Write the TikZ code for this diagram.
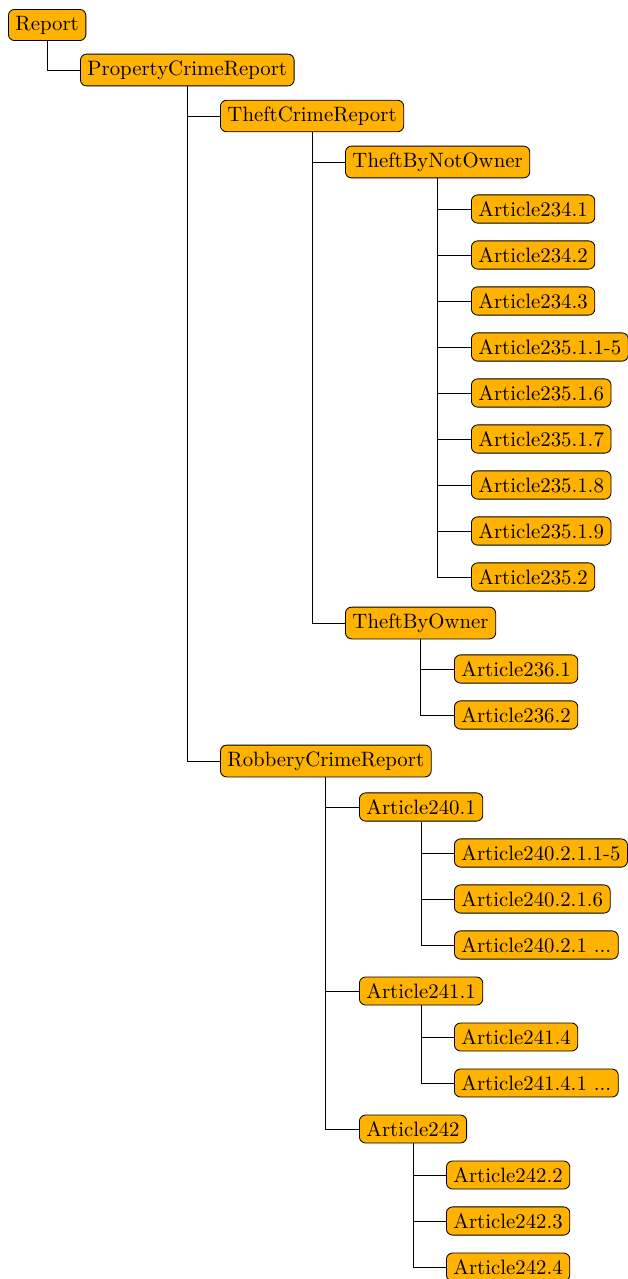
\documentclass[tikz,border=0pt]{standalone}
\definecolor{boxorange}{RGB}{255, 178, 0}
\usetikzlibrary{positioning}
\tikzset{
  item/.style={draw=black, fill=boxorange, rounded corners=3pt, anchor=west,
    inner xsep=3.4pt, inner ysep=3.1pt},
  link/.style={black, line width=0.4pt}
}
\begin{document}
\begin{tikzpicture}[x=0.4808pt, y=-0.4808pt]
  \useasboundingbox (0, 0) rectangle (627, 1279);

  % Top levels
  \node[item] (report) at (8, 25) {Report};
  \node[item] (property) at (80, 70) {PropertyCrimeReport};
  \node[item] (theft) at (220, 116) {TheftCrimeReport};
  \node[item] (notowner) at (345, 162) {TheftByNotOwner};

  % Articles of TheftByNotOwner
  \node[item] (a1) at (471, 209) {Article234.1};
  \node[item] (a2) at (471, 255) {Article234.2};
  \node[item] (a3) at (471, 301) {Article234.3};
  \node[item] (a4) at (471, 347) {Article235.1.1-5};
  \node[item] (a5) at (471, 393) {Article235.1.6};
  \node[item] (a6) at (471, 439) {Article235.1.7};
  \node[item] (a7) at (471, 485) {Article235.1.8};
  \node[item] (a8) at (471, 531) {Article235.1.9};
  \node[item] (a9) at (471, 577) {Article235.2};

  % TheftByOwner
  \node[item] (owner) at (345, 623) {TheftByOwner};
  \node[item] (b1) at (454, 669) {Article236.1};
  \node[item] (b2) at (454, 715) {Article236.2};

  % Robbery
  \node[item] (robbery) at (220, 761) {RobberyCrimeReport};
  \node[item] (r240) at (359, 807) {Article240.1};
  \node[item] (c1) at (454, 853) {Article240.2.1.1-5};
  \node[item] (c2) at (454, 899) {Article240.2.1.6};
  \node[item] (c3) at (454, 945) {Article240.2.1 ...};
  \node[item] (r241) at (359, 991) {Article241.1};
  \node[item] (d1) at (454, 1037) {Article241.4};
  \node[item] (d2) at (454, 1083) {Article241.4.1 ...};
  \node[item] (r242) at (359, 1129) {Article242};
  \node[item] (e1) at (446, 1175) {Article242.2};
  \node[item] (e2) at (446, 1221) {Article242.3};
  \node[item] (e3) at (446, 1267) {Article242.4};

  % Connectors
  \draw[link] (report.south) |- (property.west);
  \draw[link] (property.south) |- (theft.west);
  \draw[link] (property.south) |- (robbery.west);
  \draw[link] (theft.south) |- (notowner.west);
  \draw[link] (theft.south) |- (owner.west);
  \foreach \n in {a1, a2, a3, a4, a5, a6, a7, a8, a9}
    \draw[link] (notowner.south) |- (\n.west);
  \foreach \n in {b1, b2}
    \draw[link] (owner.south) |- (\n.west);
  \foreach \n in {r240, r241, r242}
    \draw[link] (robbery.south) |- (\n.west);
  \foreach \n in {c1, c2, c3}
    \draw[link] (r240.south) |- (\n.west);
  \foreach \n in {d1, d2}
    \draw[link] (r241.south) |- (\n.west);
  \foreach \n in {e1, e2, e3}
    \draw[link] (r242.south) |- (\n.west);
\end{tikzpicture}
\end{document}
